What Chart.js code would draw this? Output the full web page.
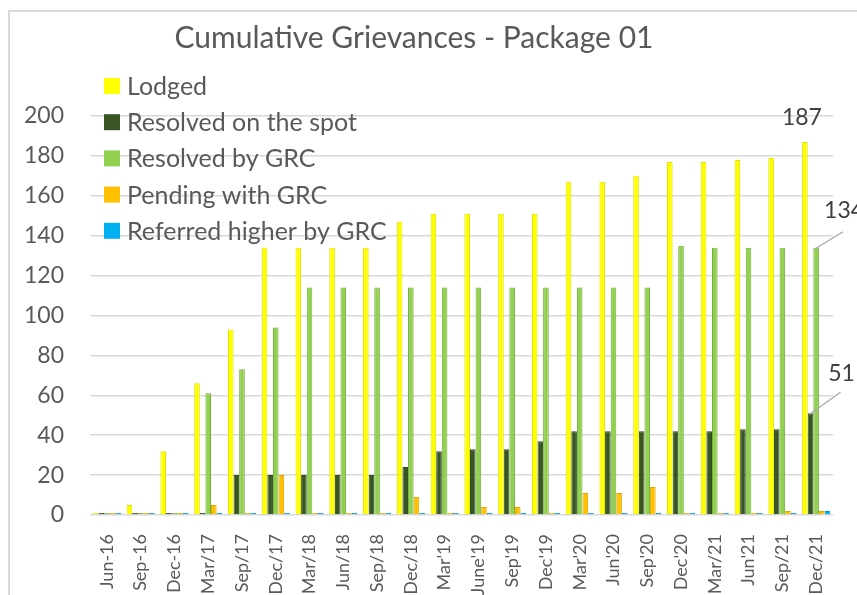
<!DOCTYPE html>
<html>
<head>
<meta charset="utf-8">
<title>Cumulative Grievances - Package 01</title>
<script src="https://cdn.jsdelivr.net/npm/chart.js@4.4.1/dist/chart.umd.min.js"></script>
<style>
  html, body { margin: 0; padding: 0; background: #fff; overflow: hidden; }
  #wrap { position: relative; width: 857px; height: 595px; }
  #frame { position: absolute; left: 8px; top: 10px; width: 900px; height: 650px;
           border: 2px solid #d9d9d9; box-sizing: border-box; pointer-events: none; }
</style>
</head>
<body>
<div id="wrap">
  <canvas id="grievanceChart" width="857" height="595"></canvas>
  <div id="frame"></div>
</div>
<script>
// Quarterly cumulative grievance counts
const periods = ['Jun-16', 'Sep-16', 'Dec-16', 'Mar/17', 'Sep/17', 'Dec/17', 'Mar/18', 'Jun/18',
                 'Sep/18', 'Dec/18', "Mar'19", "June'19", "Sep'19", "Dec'19", "Mar'20", "Jun'20",
                 "Sep'20", "Dec'20", 'Mar/21', "Jun'21", 'Sep/21', 'Dec/21'];

const lodged       = [0, 5, 32, 66, 93, 134, 134, 134, 134, 147, 151, 151, 151, 151, 167, 167, 170, 177, 177, 178, 179, 187];
const resolvedSpot = [0, 0, 0, 0, 20, 20, 20, 20, 20, 24, 32, 33, 33, 37, 42, 42, 42, 42, 42, 43, 43, 51];
const resolvedGrc  = [0, 0, 0, 61, 73, 94, 114, 114, 114, 114, 114, 114, 114, 114, 114, 114, 114, 135, 134, 134, 134, 134];
const pendingGrc   = [0, 0, 0, 5, 0, 20, 0, 0, 0, 9, 1, 4, 4, 0, 11, 11, 14, 0, 1, 1, 2, 2];
const referredUp   = [0, 0, 0, 0, 0, 0, 0, 0, 0, 0, 0, 0, 0, 0, 0, 0, 0, 0, 0, 0, 0, 2];

const yTicks = [0, 20, 40, 60, 80, 100, 120, 140, 160, 180, 200];

const TEXT = '#595959';
const FONT = 'Lato, "Open Sans", sans-serif';

// title drawn by hand so it doesn't eat layout space
const titlePlugin = {
  id: 'titlePlugin',
  afterDraw(chart) {
    const ctx = chart.ctx;
    ctx.save();
    ctx.font = '30px ' + FONT;
    ctx.fillStyle = TEXT;
    ctx.textAlign = 'center';
    ctx.textBaseline = 'middle';
    ctx.fillText('Cumulative Grievances - Package 01', 414, 38);
    ctx.restore();
  }
};

// vertical legend sitting over the upper-left of the plot
const sideLegend = {
  id: 'sideLegend',
  afterDatasetsDraw(chart) {
    const ctx = chart.ctx;
    ctx.save();
    ctx.font = '25px ' + FONT;
    ctx.textBaseline = 'middle';
    chart.data.datasets.forEach((ds, i) => {
      const y = 86 + i * 36.2;
      ctx.fillStyle = ds.backgroundColor;
      ctx.fillRect(104, y - 8, 16, 16);
      ctx.fillStyle = TEXT;
      ctx.fillText(ds.label, 127, y + 1);
    });
    ctx.restore();
  }
};

// value labels on the last quarter
const valueLabels = {
  id: 'valueLabels',
  afterDatasetsDraw(chart) {
    const ctx = chart.ctx;
    const last = periods.length - 1;
    ctx.save();
    ctx.font = '23px ' + FONT;
    ctx.fillStyle = '#404040';
    ctx.textAlign = 'center';
    ctx.textBaseline = 'middle';

    const lb = chart.getDatasetMeta(0).data[last];
    ctx.fillText(String(lodged[last]), lb.x - 3, lb.y - 24);

    const callouts = [
      { meta: 2, value: resolvedGrc[last], dx: 27, dy: -16, ty: -37 },
      { meta: 1, value: resolvedSpot[last], dx: 30, dy: -21, ty: -40 }
    ];
    ctx.strokeStyle = '#a6a6a6';
    ctx.lineWidth = 1.2;
    callouts.forEach(c => {
      const bar = chart.getDatasetMeta(c.meta).data[last];
      ctx.beginPath();
      ctx.moveTo(bar.x - 1, bar.y + 1);
      ctx.lineTo(bar.x + c.dx, bar.y + c.dy);
      ctx.stroke();
      ctx.fillText(String(c.value), bar.x + c.dx + 1, bar.y + c.ty);
    });
    ctx.restore();
  }
};

const barStyle = { borderWidth: 1, minBarLength: 2, categoryPercentage: 0.83, barPercentage: 1.0 };

const ctx = document.getElementById('grievanceChart').getContext('2d');
const grievanceChart = new Chart(ctx, {
  type: 'bar',
  data: {
    labels: periods,
    datasets: [
      { label: 'Lodged', data: lodged, backgroundColor: '#FFFF00', borderColor: '#E2E200', ...barStyle },
      { label: 'Resolved on the spot', data: resolvedSpot, backgroundColor: '#375623', borderColor: '#2E4A1D', ...barStyle },
      { label: 'Resolved by GRC', data: resolvedGrc, backgroundColor: '#92D050', borderColor: '#72AE3A', ...barStyle },
      { label: 'Pending with GRC', data: pendingGrc, backgroundColor: '#FFC000', borderColor: '#E0A800', ...barStyle },
      { label: 'Referred higher by GRC', data: referredUp, backgroundColor: '#00B0F0', borderColor: '#0096D0', ...barStyle }
    ]
  },
  options: {
    responsive: false,
    animation: false,
    layout: { padding: { top: 116, right: 24, left: 0, bottom: 0 } },
    plugins: {
      legend: { display: false },
      title: { display: false },
      tooltip: { enabled: false }
    },
    scales: {
      x: {
        grid: { display: false },
        border: { display: false },
        ticks: {
          color: TEXT,
          font: { family: FONT, size: 18 },
          minRotation: 90,
          maxRotation: 90,
          autoSkip: false,
          padding: 11
        },
        afterFit(scale) { scale.height = 80; }
      },
      y: {
        min: 0,
        max: 200,
        border: { display: false },
        grid: { color: '#d9d9d9', lineWidth: 1.5, drawTicks: false },
        afterBuildTicks(scale) { scale.ticks = yTicks.map(v => ({ value: v })); },
        ticks: {
          color: TEXT,
          font: { family: FONT, size: 23 },
          padding: 26
        },
        afterFit(scale) { scale.width = 90; }
      }
    }
  },
  plugins: [titlePlugin, sideLegend, valueLabels]
});
</script>
</body>
</html>
